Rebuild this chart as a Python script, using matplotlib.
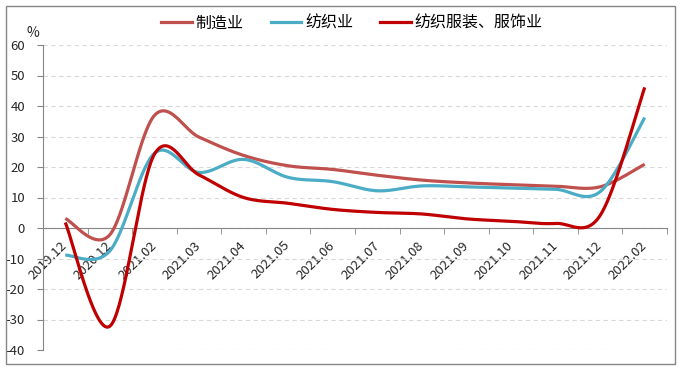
import numpy as np
import matplotlib
matplotlib.use("Agg")
import matplotlib.pyplot as plt
from matplotlib.lines import Line2D
from matplotlib.patches import Rectangle

plt.rcParams['font.family'] = ['Noto Sans CJK SC', 'DejaVu Sans']
plt.rcParams['axes.unicode_minus'] = False

months = ['2019.12', '2020.12', '2021.02', '2021.03', '2021.04', '2021.05', '2021.06',
          '2021.07', '2021.08', '2021.09', '2021.10', '2021.11', '2021.12', '2022.02']
zhizao = [3.1, -2.2, 36.9, 29.8, 23.8, 20.4, 19.2, 17.3, 15.7, 14.8, 14.2, 13.7, 13.5, 20.9]
fangzhi = [-8.9, -7.5, 24.5, 18.2, 22.5, 16.6, 15.2, 12.2, 13.8, 13.5, 13.1, 12.7, 11.9, 36.2]
fuzhuang = [1.8, -32.2, 24.2, 17.4, 10.0, 8.1, 6.1, 5.1, 4.6, 3.0, 2.2, 1.5, 4.1, 46.1]

names = ['制造业', '纺织业', '纺织服装、服饰业']
colors = ['#C0504D', '#4BACC6', '#C00000']


def smooth(x, y, n=40):
    # excel-style bezier smoothing through the points
    p = np.column_stack([x, y]).astype(float)
    k = len(p)
    xs, ys = [], []
    t = np.linspace(0, 1, n)[:, None]
    for i in range(k - 1):
        a = p[i]
        d = p[i + 1]
        b = a + (p[i + 1] - p[max(i - 1, 0)]) / 6
        c = d - (p[min(i + 2, k - 1)] - p[i]) / 6
        seg = (1 - t) ** 3 * a + 3 * (1 - t) ** 2 * t * b + 3 * (1 - t) * t ** 2 * c + t ** 3 * d
        xs.extend(seg[:, 0])
        ys.extend(seg[:, 1])
    return np.array(xs), np.array(ys)


fig = plt.figure(figsize=(6.82, 3.70), dpi=100)
ax = fig.add_axes([43 / 682, 1 - 350 / 370, 624 / 682, 305 / 370])

x = np.arange(len(months))
for vals, c in zip([zhizao, fangzhi, fuzhuang], colors):
    sx, sy = smooth(x, vals)
    ax.plot(sx, sy, color=c, lw=2.3, solid_capstyle='butt', zorder=3)

ax.set_xlim(-0.5, len(months) - 0.5)
ax.set_ylim(-40, 60)
ax.set_yticks(range(-40, 61, 10))
ax.yaxis.grid(True, color='#D9D9D9', lw=0.8, linestyle=(0, (4, 3)))
ax.set_axisbelow(True)

grey = '#868686'
for s in ['top', 'right']:
    ax.spines[s].set_visible(False)
ax.spines['left'].set_color(grey)
ax.spines['bottom'].set_color(grey)
ax.spines['bottom'].set_position(('data', 0))
ax.spines['bottom'].set_zorder(2)

ax.set_xticks(x)
ax.set_xticklabels(months, rotation=45, ha='right', va='center', rotation_mode='anchor')
ax.set_xticks(np.arange(-0.5, len(months), 1), minor=True)
ax.tick_params(axis='x', which='major', length=0, pad=11, labelsize=9.5, labelcolor='#262626')
ax.tick_params(axis='x', which='minor', length=4, direction='out', color=grey)
ax.tick_params(axis='y', length=4, color=grey, pad=9, labelsize=9.5, labelcolor='#262626')
for lab in ax.get_yticklabels():
    lab.set_horizontalalignment('right')

fig.text(33 / 682, 1 - 33 / 370, '%', ha='center', va='center', fontsize=10, color='#262626')

handles = [Line2D([], [], color=c, lw=2.3) for c in colors]
fig.legend(handles, names, loc='center', bbox_to_anchor=(352 / 682, 1 - 23 / 370), ncol=3,
           frameon=False, fontsize=11.5, handlelength=1.9, handletextpad=0.25,
           columnspacing=1.7, borderaxespad=0)

fig.patches.append(Rectangle((5.5 / 682, 6 / 370), 669.5 / 682, 358 / 370, transform=fig.transFigure,
                             fill=False, edgecolor=grey, lw=1))

fig.savefig('out.png', dpi=100)
